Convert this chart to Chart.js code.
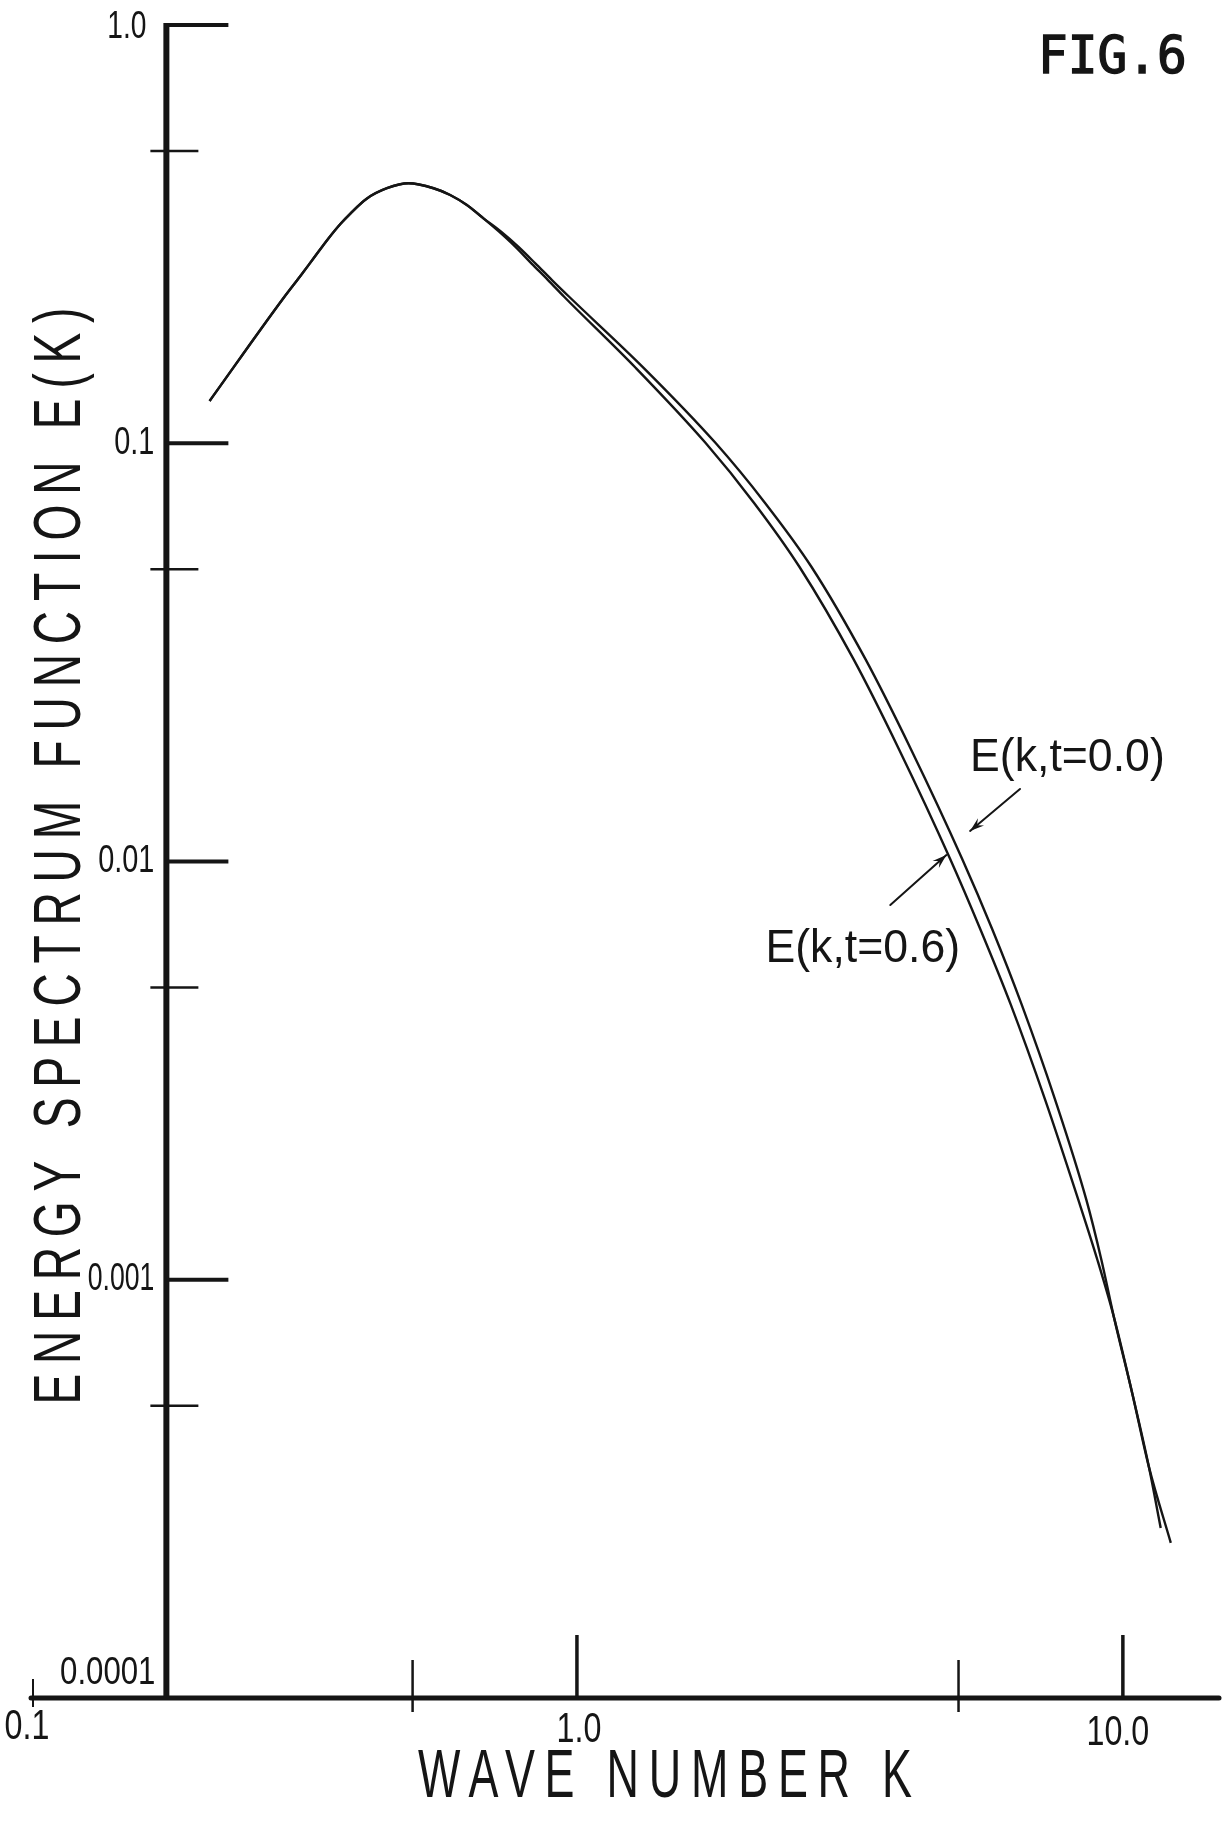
<!DOCTYPE html>
<html><head><meta charset="utf-8">
<script src="https://cdn.jsdelivr.net/npm/chart.js@4.4.1/dist/chart.umd.min.js"></script>
<style>html,body{margin:0;padding:0;background:#fff;}canvas{display:block;}</style>
</head><body>
<canvas id="c" width="1231" height="1821"></canvas>
<script>
// ---- data ----
// common low-wavenumber part (both curves coincide)
const kCommon = [0.2124,0.2901,0.3115,0.3296,0.3506,0.3687,0.3846,0.4125,0.4488,0.4915,0.5462,0.5859,0.6286,0.6742];
const eCommon = [0.1262,0.2225,0.2511,0.2772,0.3087,0.3343,0.3542,0.3847,0.4071,0.4184,0.4071,0.3923,0.3712,0.3449];
// E(k, t=0.0)
const kT00 = [0.7263,0.7807,0.8390,0.9000,0.9677,1.326,1.795,2.211,2.690,3.375,4.097,5.078,5.772,6.522,7.511,8.576,9.135,9.627,10.39,11.16,11.73];
const eT00 = [0.3205,0.2951,0.2692,0.2456,0.2240,0.1513,0.1001,0.0720,0.0506,0.0305,0.01848,0.01014,0.00686,0.00456,0.00270,0.00155,0.001115,0.000815,0.000539,0.000357,0.000255];
// E(k, t=0.6)
const kT06 = [0.7201,0.7709,0.8251,0.8851,0.9475,1.282,1.721,2.111,2.557,3.209,3.895,4.827,5.489,6.228,7.201,8.291,8.983,9.627,10.39,11.16,12.24];
const eT06 = [0.3205,0.2951,0.2692,0.2456,0.2240,0.1513,0.1001,0.0720,0.0506,0.0305,0.01848,0.01014,0.00686,0.00456,0.00270,0.00155,0.001115,0.000815,0.000539,0.000357,0.000235];
const seriesNames = ['E(k,t=0.0)','E(k,t=0.6)'];

// axes / ticks
const xMin = 0.1, xMax = 15, yMin = 0.0001, yMax = 1;
const yAxisAtK = 0.177;
const xTickValues = [0.1, 1, 10];
const xTickLabels = ['0.1', '1.0', '10.0'];
const xMinorTicks = [0.5, 5];
const yTickValues = [1, 0.1, 0.01, 0.001, 0.0001];
const yTickLabels = ['1.0', '0.1', '0.01', '0.001', '0.0001'];
const yMinorTicks = [0.5, 0.05, 0.005, 0.0005];
const xTitle = 'WAVE NUMBER K';
const yTitle = 'ENERGY SPECTRUM FUNCTION E(K)';
const figLabel = 'FIG.6';

// annotations (data coordinates)
const annoText = ['E(k,t=0.0)', 'E(k,t=0.6)'];
const annoK = [5.25, 2.215];
const annoE = [0.01646, 0.00575];
const arrowTailK = [6.48, 3.75];
const arrowTailE = [0.01491, 0.00787];
const arrowTipK = [5.25, 4.75];
const arrowTipE = [0.01183, 0.01036];

// ---- build ----
function pts(ks, es) { return ks.map((k, i) => ({x: k, y: es[i]})); }
const dataT00 = pts(kCommon.concat(kT00), eCommon.concat(eT00));
const dataT06 = pts(kCommon.concat(kT06), eCommon.concat(eT06));

const INK = '#151515';
function seg(ctx, x1, y1, x2, y2, w) {
  ctx.lineWidth = w; ctx.beginPath(); ctx.moveTo(x1, y1); ctx.lineTo(x2, y2); ctx.stroke();
}
function txt(ctx, s, x, y, font, align, baseline, sx, spacing, rot, bold) {
  ctx.save();
  ctx.font = font; ctx.textAlign = align; ctx.textBaseline = baseline; ctx.fillStyle = INK;
  if (spacing) ctx.letterSpacing = spacing + 'px';
  ctx.translate(x, y);
  if (rot) ctx.rotate(rot);
  ctx.scale(sx, 1);
  ctx.fillText(s, 0, 0);
  if (bold) { ctx.strokeStyle = INK; ctx.lineWidth = bold; ctx.strokeText(s, 0, 0); }
  ctx.restore();
}
// text stretched by letter spacing to a target total width (centered)
function spanTxt(ctx, s, cx, cy, font, sx, target, rot) {
  ctx.save();
  ctx.font = font;
  const w = ctx.measureText(s).width * sx;
  const sp = (target - w) / (s.length - 1) / sx;
  ctx.restore();
  ctx.save();
  ctx.font = font; ctx.fillStyle = INK; ctx.textAlign = 'left'; ctx.textBaseline = 'alphabetic';
  ctx.letterSpacing = sp + 'px';
  ctx.translate(cx, cy);
  if (rot) ctx.rotate(rot);
  ctx.scale(sx, 1);
  ctx.fillText(s, -target / 2 / sx, 0);
  ctx.restore();
}

const handAxes = {
  id: 'handAxes',
  beforeDatasetsDraw(chart) {
    const {ctx, chartArea: a} = chart;
    const X = chart.scales.x, Y = chart.scales.y;
    ctx.save();
    ctx.strokeStyle = INK; ctx.lineCap = 'butt';
    const yx = X.getPixelForValue(yAxisAtK);
    const yb = Y.getPixelForValue(yMin);
    const yt = Y.getPixelForValue(yMax);
    // x axis
    ctx.lineCap = 'round';
    seg(ctx, a.left, yb, a.right, yb, 5);
    ctx.lineCap = 'butt';
    // y axis
    seg(ctx, yx, yt - 2, yx, yb, 6);
    // y major ticks (to the right)
    yTickValues.forEach(v => { if (v === yMin) return; const p = Y.getPixelForValue(v); seg(ctx, yx, p, yx + 62, p, 4); });
    // y minor ticks (crossing the axis)
    yMinorTicks.forEach(v => { const p = Y.getPixelForValue(v); seg(ctx, yx - 16, p, yx + 32, p, 2.5); });
    // x ticks
    xTickValues.forEach(v => {
      const p = X.getPixelForValue(v);
      if (v === xMin) seg(ctx, p + 2, yb - 19, p + 2, yb + 9, 2);
      else seg(ctx, p, yb - 63, p, yb, 3.5);
    });
    xMinorTicks.forEach(v => { const p = X.getPixelForValue(v); seg(ctx, p, yb - 38, p, yb + 14, 2.5); });
    ctx.restore();
  },
  afterDraw(chart) {
    const {ctx} = chart;
    const X = chart.scales.x, Y = chart.scales.y;
    const yx = X.getPixelForValue(yAxisAtK);
    const yb = Y.getPixelForValue(yMin);
    const lab = '38px "Liberation Sans", Arial, sans-serif';
    // y tick labels
    yTickValues.forEach((v, i) => {
      const p = Y.getPixelForValue(v);
      if (v === yMin) txt(ctx, yTickLabels[i], yx - 11, p - 5, lab, 'right', 'bottom', 0.82, 0);
      else if (v === yMax) txt(ctx, yTickLabels[i], yx - 20, p + 3, lab, 'right', 'middle', 0.74, 0);
      else if (v === 0.001) txt(ctx, yTickLabels[i], yx - 12, p, lab, 'right', 'middle', 0.7, 0);
      else txt(ctx, yTickLabels[i], yx - 12, p, lab, 'right', 'middle', 0.76, 0);
    });
    // x tick labels
    const xl = '43px "Liberation Sans", Arial, sans-serif';
    xTickValues.forEach((v, i) => {
      const p = X.getPixelForValue(v);
      const dx = v === xMin ? -4 : (v === 10 ? -5 : 2);
      const by = v === xMin ? 1739 : (v === 10 ? 1745 : 1742);
      txt(ctx, xTickLabels[i], p + dx, by, xl, 'center', 'alphabetic', 0.75, 0);
    });
    // axis titles
    spanTxt(ctx, xTitle, 665, 1797, '68px "Liberation Sans", Arial, sans-serif', 0.66, 494);
    spanTxt(ctx, yTitle, 80, 856, '66px "Liberation Sans", Arial, sans-serif', 0.7, 1097, -Math.PI / 2);
    // figure label
    txt(ctx, figLabel, 1038, 73, '52px "DejaVu Sans Mono", monospace', 'left', 'alphabetic', 0.95, 0, 0, 1.4);
    // annotations with arrows
    ctx.save();
    ctx.strokeStyle = INK; ctx.fillStyle = INK; ctx.lineCap = 'round';
    annoText.forEach((s, i) => {
      txt(ctx, s, X.getPixelForValue(annoK[i]), Y.getPixelForValue(annoE[i]), '46px "Liberation Sans", Arial, sans-serif', 'left', 'alphabetic', 0.97, 0);
      const x1 = X.getPixelForValue(arrowTailK[i]), y1 = Y.getPixelForValue(arrowTailE[i]);
      const x2 = X.getPixelForValue(arrowTipK[i]), y2 = Y.getPixelForValue(arrowTipE[i]);
      seg(ctx, x1, y1, x2, y2, 2);
      const ang = Math.atan2(y2 - y1, x2 - x1), L = 15, W = 0.32;
      ctx.beginPath();
      ctx.moveTo(x2, y2);
      ctx.lineTo(x2 - L * Math.cos(ang - W), y2 - L * Math.sin(ang - W));
      ctx.lineTo(x2 - 0.6 * L * Math.cos(ang), y2 - 0.6 * L * Math.sin(ang));
      ctx.lineTo(x2 - L * Math.cos(ang + W), y2 - L * Math.sin(ang + W));
      ctx.closePath(); ctx.fill();
    });
    ctx.restore();
  }
};

const bgPlugin = {
  id: 'bg',
  beforeDraw(chart) { const c = chart.ctx; c.save(); c.fillStyle = '#fff'; c.fillRect(0, 0, chart.width, chart.height); c.restore(); }
};

new Chart(document.getElementById('c'), {
  type: 'line',
  data: {
    datasets: [
      {label: seriesNames[0], data: dataT00, borderColor: INK, borderWidth: 2.4, pointRadius: 0, fill: false, cubicInterpolationMode: 'monotone'},
      {label: seriesNames[1], data: dataT06, borderColor: INK, borderWidth: 2.4, pointRadius: 0, fill: false, cubicInterpolationMode: 'monotone'}
    ]
  },
  options: {
    responsive: false,
    animation: false,
    devicePixelRatio: 1,
    layout: {padding: {left: 31, right: 12, top: 25, bottom: 123}, autoPadding: false},
    scales: {
      x: {type: 'logarithmic', min: xMin, max: xMax, display: false},
      y: {type: 'logarithmic', min: yMin, max: yMax, display: false}
    },
    plugins: {legend: {display: false}, tooltip: {enabled: false}, title: {display: false}}
  },
  plugins: [bgPlugin, handAxes]
});
</script>
</body></html>
